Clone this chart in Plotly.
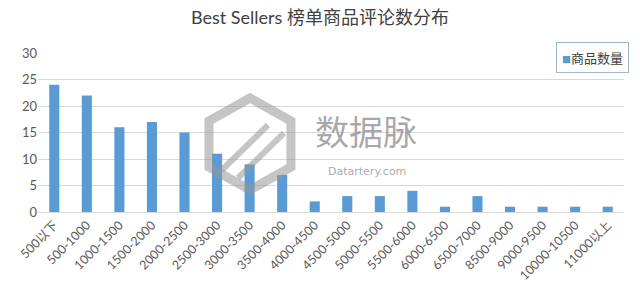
import plotly.graph_objects as go

categories = ["500以下", "500-1000", "1000-1500", "1500-2000", "2000-2500", "2500-3000",
              "3000-3500", "3500-4000", "4000-4500", "4500-5000", "5000-5500", "5500-6000",
              "6000-6500", "6500-7000", "8500-9000", "9000-9500", "10000-10500", "11000以上"]
counts = [24, 22, 16, 17, 15, 11, 9, 7, 2, 3, 3, 4, 1, 3, 1, 1, 1, 1]
series_name = "商品数量"
title_text = "Best Sellers 榜单商品评论数分布"

BAR_COLOR = "#5B9BD5"
FONT = "Lato, 'Noto Sans CJK SC', sans-serif"
L, R, T, B = 38, 16, 53, 78
W, H = 640, 290
PW, PH = W - L - R, H - T - B

def px(x):
    return (x - L) / PW

def py(y):
    return (H - B - y) / PH

fig = go.Figure()
fig.add_trace(go.Bar(x=categories, y=counts, name=series_name, showlegend=False,
                     marker=dict(color=BAR_COLOR, line=dict(width=0))))

# watermark logo (hexagon) and text
hx = [250, 291, 291, 250, 209, 209, 250]
hy = [98, 121, 167, 190, 167, 121, 98]
path = "M " + " L ".join(f"{px(a):.4f},{py(b):.4f}" for a, b in zip(hx, hy)) + " Z"
wm = "rgba(150,150,150,0.55)"
shapes = [
    dict(type="path", path=path, xref="paper", yref="paper",
         line=dict(color=wm, width=9), layer="above"),
    dict(type="line", xref="paper", yref="paper", x0=px(222), y0=py(170), x1=px(268), y1=py(125),
         line=dict(color=wm, width=6), layer="above"),
    dict(type="line", xref="paper", yref="paper", x0=px(238), y0=py(178), x1=px(284), y1=py(133),
         line=dict(color=wm, width=6), layer="above"),
]
annotations = [
    dict(text="数据脉", xref="paper", yref="paper", x=px(366), y=py(130), showarrow=False,
         yanchor="middle",
         font=dict(family="'Noto Sans CJK SC', sans-serif", size=34, color="rgba(140,140,140,0.75)")),
    dict(text="Datartery.com", xref="paper", yref="paper", x=px(367), y=py(171), showarrow=False,
         yanchor="middle",
         font=dict(family="'DejaVu Sans', sans-serif", size=11, color="rgba(140,140,140,0.75)")),
    # legend box
    dict(text=f"<span style='color:{BAR_COLOR};font-size:9px'>■</span>{series_name}",
         xref="paper", yref="paper", x=px(592), y=py(57), xanchor="center", yanchor="middle",
         showarrow=False, bgcolor="white", bordercolor="#9fb6cf", borderwidth=1, borderpad=5,
         font=dict(family="'Noto Sans CJK SC', sans-serif", size=13, color="#404040")),
]

fig.update_layout(
    width=W, height=H,
    margin=dict(l=L, r=R, t=T, b=B),
    paper_bgcolor="white", plot_bgcolor="white",
    title=dict(text=title_text, x=0.5, xanchor="center", y=0.94, yanchor="middle",
               font=dict(family=FONT, size=18, color="#404040")),
    font=dict(family=FONT, size=12, color="#595959"),
    bargap=0.69,
    showlegend=False,
    xaxis=dict(type="category", tickangle=-45, showgrid=False, showline=True,
               linecolor="#d9d9d9", linewidth=1, ticks="", automargin=False,
               tickfont=dict(family=FONT, size=12.5, color="#595959")),
    yaxis=dict(range=[0, 30], dtick=5, showgrid=True, gridcolor="#d9d9d9", gridwidth=1,
               zeroline=False, showline=False, ticks="", automargin=False,
               tickfont=dict(family=FONT, size=13, color="#595959")),
    shapes=shapes, annotations=annotations,
)

fig.write_html("out.html")
